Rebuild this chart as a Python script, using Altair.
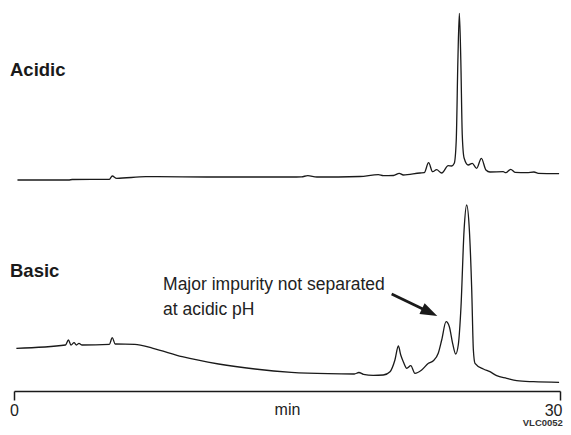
import altair as alt
import pandas as pd

# Retention time (min) and detector signal (arbitrary units)
acid_t = [0.19, 3.0, 3.2, 5.24, 5.40, 5.64, 7.24, 11.24, 15.24, 15.8, 16.14, 16.64, 19.0, 20.02,
          20.29, 20.85, 21.17, 21.39, 22.31, 22.54, 22.78, 23.00, 23.22, 23.50, 23.86, 24.05,
          24.19, 24.30, 24.39, 24.47, 24.55, 24.63, 24.73, 24.96, 25.18, 25.42, 25.68, 25.93,
          26.15, 26.88, 27.02, 27.29, 27.53, 28.17, 28.57, 28.81, 29.95]
acid_s = [0.0, 0.0, 0.5, 0.7, 4.0, 1.7, 3.3, 3.0, 3.0, 3.2, 4.3, 3.0, 3.5, 5.3,
          4.3, 4.5, 6.7, 5.0, 7.0, 7.3, 17.3, 8.3, 10.3, 7.0, 14.3, 14.0,
          16.7, 40.0, 120.0, 166.7, 120.0, 45.0, 22.0, 15.0, 16.7, 11.7, 21.7, 10.0,
          8.0, 8.3, 7.3, 10.7, 7.7, 7.3, 8.0, 6.7, 6.3]

basic_t = [0.13, 2.83, 2.99, 3.13, 3.30, 3.43, 3.57, 3.74, 5.24, 5.40, 5.56, 6.64, 7.64, 9.24,
           11.24, 13.24, 15.24, 17.25, 18.70, 18.95, 19.20, 19.74, 20.29, 20.66, 20.93, 21.12,
           21.25, 21.39, 21.58, 21.80, 22.03, 22.40, 22.77, 23.04, 23.31, 23.50, 23.74, 23.92,
           24.10, 24.27, 24.41, 24.56, 24.73, 24.87, 25.02, 25.15, 25.24, 25.33, 25.79, 26.15,
           26.52, 27.07, 27.62, 28.54, 29.95]
basic_s = [42.7, 46.0, 51.0, 46.0, 48.3, 46.0, 47.7, 46.0, 46.7, 53.3, 47.0, 46.7, 42.7, 34.3,
           27.0, 22.0, 18.7, 17.3, 17.0, 18.5, 16.7, 15.7, 16.0, 19.3, 31.0, 45.0,
           36.0, 29.3, 22.7, 25.3, 17.7, 21.0, 27.7, 30.3, 37.7, 51.0, 69.3, 64.3,
           47.7, 37.0, 46.0, 84.3, 161.0, 186.0, 161.0, 101.0, 41.0, 27.7, 22.0, 19.3,
           15.3, 12.7, 10.3, 9.3, 8.7]

trace_names = ["Acidic", "Basic"]
trace_offsets = [211.0, 0.0]

axis_ticks = [0, 30]
axis_title = "min"

note_text = "Major impurity not separated\nat acidic pH"
note_pos = [8.19, 101.0]
arrow_from = [20.75, 97.0]
arrow_to = [23.26, 75.0]
arrow_line_end = [22.75, 79.5]
label_pos = {"Acidic": [-0.22, 315.0], "Basic": [-0.22, 114.0]}
code_text = "VLC0052"
code_pos = [30.16, -34.8]

FONT = "Liberation Sans, Arial, sans-serif"
INK = "#1a1a1a"

rows = []
for name, off, ts, ss in [("Acidic", trace_offsets[0], acid_t, acid_s),
                          ("Basic", trace_offsets[1], basic_t, basic_s)]:
    for t, s in zip(ts, ss):
        rows.append({"trace": name, "t": t, "v": s + off})
df = pd.DataFrame(rows)

xscale = alt.Scale(domain=[0, 30], nice=False, zero=False)
yscale = alt.Scale(domain=[0, 383], nice=False, zero=False)

lines = alt.Chart(df).mark_line(color=INK, strokeWidth=1.3, interpolate="monotone").encode(
    x=alt.X("t:Q", scale=xscale,
            axis=alt.Axis(values=axis_ticks, title=axis_title, grid=False,
                          domainColor=INK, domainWidth=1.5, tickColor=INK, tickWidth=1.5,
                          tickSize=9, labelFont=FONT, labelFontSize=16, labelColor="#222",
                          labelPadding=2, labelFlush=False, labelAngle=0,
                          labelAlign=alt.ExprRef(expr="datum.value >= 30 ? 'right' : 'center'"),
                          labelOffset=alt.ExprRef(expr="datum.value >= 30 ? 2 : 0"),
                          titleFont=FONT, titleFontSize=16, titleFontWeight="normal",
                          titleColor="#222", titleY=23, titleBaseline="alphabetic")),
    y=alt.Y("v:Q", scale=yscale, axis=None),
    detail="trace:N",
)

lab_df = pd.DataFrame({"name": trace_names,
                       "t": [label_pos[n][0] for n in trace_names],
                       "v": [label_pos[n][1] for n in trace_names]})
labels = alt.Chart(lab_df).mark_text(font=FONT, fontSize=18.5, fontWeight="bold", align="left",
                                     baseline="alphabetic", color=INK).encode(
    x=alt.X("t:Q", scale=xscale), y=alt.Y("v:Q", scale=yscale), text="name:N")

note_df = pd.DataFrame({"t": [note_pos[0]], "v": [note_pos[1]], "txt": [note_text]})
note = alt.Chart(note_df).mark_text(font=FONT, fontSize=17.5, align="left", baseline="alphabetic",
                                    lineBreak="\n", lineHeight=25, color="#222").encode(
    x=alt.X("t:Q", scale=xscale), y=alt.Y("v:Q", scale=yscale), text="txt:N")

arr_df = pd.DataFrame({"t": [arrow_from[0]], "v": [arrow_from[1]],
                       "t2": [arrow_line_end[0]], "v2": [arrow_line_end[1]]})
arrow_line = alt.Chart(arr_df).mark_rule(color=INK, strokeWidth=2.8).encode(
    x=alt.X("t:Q", scale=xscale), y=alt.Y("v:Q", scale=yscale), x2="t2:Q", y2="v2:Q")

head_df = pd.DataFrame({"t": [arrow_to[0]], "v": [arrow_to[1]]})
arrow_head = alt.Chart(head_df).mark_point(shape="M0,0L-2,-0.7L-2,0.7Z", size=289, filled=True,
                                           opacity=1, color=INK, angle=25.8).encode(
    x=alt.X("t:Q", scale=xscale), y=alt.Y("v:Q", scale=yscale))

code_df = pd.DataFrame({"t": [code_pos[0]], "v": [code_pos[1]], "txt": [code_text]})
code = alt.Chart(code_df).mark_text(font=FONT, fontSize=9.5, fontWeight="bold", align="right",
                                    baseline="alphabetic", color="#333").encode(
    x=alt.X("t:Q", scale=xscale), y=alt.Y("v:Q", scale=yscale), text="txt:N")

chart = alt.layer(lines, labels, note, arrow_line, arrow_head, code).properties(
    width=546, height=383,
    autosize=alt.AutoSizeParams(type="none"),
    padding={"left": 6, "top": 0, "right": 3, "bottom": 36},
    background="white",
).configure_view(strokeWidth=0)

chart.save("out.html", embed_options={"renderer": "svg", "actions": False})
